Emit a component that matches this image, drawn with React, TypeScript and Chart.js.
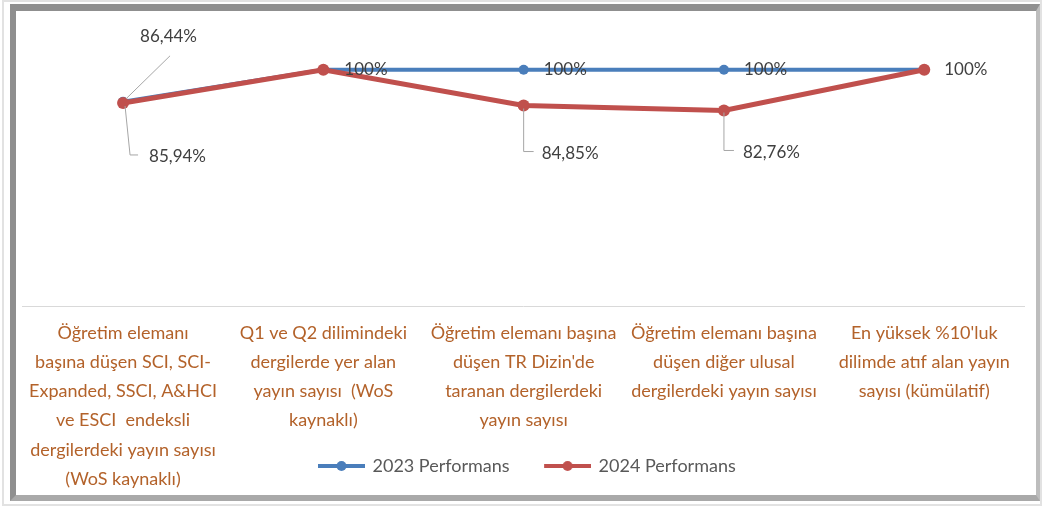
import React, { useEffect, useRef } from "react";
import { Chart, registerables } from "chart.js";

Chart.register(...registerables);

// ---- data ----
const categories: string[][] = [
  ["Öğretim elemanı", "başına düşen SCI, SCI-", "Expanded, SSCI, A&HCI", "ve ESCI  endeksli", "dergilerdeki yayın sayısı", "(WoS kaynaklı)"],
  ["Q1 ve Q2 dilimindeki", "dergilerde yer alan", "yayın sayısı  (WoS", "kaynaklı)"],
  ["Öğretim elemanı başına", "düşen TR Dizin'de", "taranan dergilerdeki", "yayın sayısı"],
  ["Öğretim elemanı başına", "düşen diğer ulusal", "dergilerdeki yayın sayısı"],
  ["En yüksek %10'luk", "dilimde atıf alan yayın", "sayısı (kümülatif)"],
];
const seriesNames = ["2023 Performans", "2024 Performans"];
const values2023 = [86.44, 100, 100, 100, 100];
const values2024 = [85.94, 100, 84.85, 82.76, 100];
const yMin = 0;
const yMax = 120;

// ---- styles ----
const colors = ["#4a7ebb", "#c0504d"];
const labelColor = "#b3622a";
const FONT = "Lato";

// data label placements (offsets relative to the point, styling only)
type Placement = { ds: number; i: number; dx: number; dy: number; leader?: number[][] };
const labelPlacements: Placement[] = [
  { ds: 0, i: 0, dx: 17, dy: -65, leader: [[3, -3], [47, -46]] },
  { ds: 0, i: 1, dx: 21, dy: 0 },
  { ds: 0, i: 2, dx: 20, dy: 0 },
  { ds: 0, i: 3, dx: 20, dy: 0 },
  { ds: 1, i: 0, dx: 26, dy: 54, leader: [[2, 3], [7, 52], [15, 52]] },
  { ds: 1, i: 2, dx: 18, dy: 48, leader: [[0, 3], [0, 46], [10, 46]] },
  { ds: 1, i: 3, dx: 19, dy: 42, leader: [[0, 2], [0, 40], [10, 40]] },
  { ds: 1, i: 4, dx: 20, dy: 0 },
];

const fmt = (v: number) => (Number.isInteger(v) ? String(v) : v.toFixed(2).replace(".", ",")) + "%";

function makeIcon(color: string, lw: number, r: number): HTMLCanvasElement {
  const c = document.createElement("canvas");
  c.width = 73;
  c.height = 14;
  const g = c.getContext("2d")!;
  g.strokeStyle = color;
  g.lineWidth = lw;
  g.beginPath();
  g.moveTo(26, 7);
  g.lineTo(73, 7);
  g.stroke();
  g.fillStyle = color;
  g.beginPath();
  g.arc(49.5, 7, r, 0, Math.PI * 2);
  g.fill();
  return c;
}

export default function App() {
  const ref = useRef<HTMLCanvasElement | null>(null);

  useEffect(() => {
    if (!ref.current) return;
    const icons = [makeIcon(colors[0], 4, 5), makeIcon(colors[1], 4, 5)];

    const dataLabels = {
      id: "dataLabels",
      afterDatasetsDraw(chart: any) {
        const ctx = chart.ctx;
        ctx.save();
        ctx.font = `17px ${FONT}`;
        ctx.fillStyle = "#404040";
        ctx.textBaseline = "middle";
        ctx.textAlign = "left";
        for (const p of labelPlacements) {
          const el = chart.getDatasetMeta(p.ds).data[p.i];
          const v = chart.data.datasets[p.ds].data[p.i] as number;
          if (p.leader) {
            ctx.strokeStyle = "#a6a6a6";
            ctx.lineWidth = 1;
            ctx.beginPath();
            p.leader.forEach(([lx, ly], k) => {
              if (k === 0) ctx.moveTo(el.x + lx, el.y + ly);
              else ctx.lineTo(el.x + lx, el.y + ly);
            });
            ctx.stroke();
          }
          ctx.fillText(fmt(v), el.x + p.dx, el.y + p.dy);
        }
        ctx.restore();
      },
    };

    // place the legend inside the lower part of the category-label band
    const legendPlace = {
      id: "legendPlace",
      afterLayout(chart: any) {
        const lg = chart.legend;
        if (!lg || !lg.lineWidths) return;
        const x0 = (lg.left + 10 + lg.right - lg.lineWidths[0]) / 2;
        const dx = 277.5 - x0;
        lg.left += dx;
        lg.right += dx;
        lg.top = 436;
        lg.bottom = 478;
        lg.height = 42;
      },
    };

    const chart = new Chart(ref.current, {
      type: "line",
      data: {
        labels: categories,
        datasets: [
          {
            label: seriesNames[0],
            data: values2023,
            borderColor: colors[0],
            backgroundColor: colors[0],
            borderWidth: 4,
            pointRadius: 5,
            pointBorderWidth: 0,
            pointBackgroundColor: colors[0],
            tension: 0,
            order: 1,
          },
          {
            label: seriesNames[1],
            data: values2024,
            borderColor: colors[1],
            backgroundColor: colors[1],
            borderWidth: 5,
            pointRadius: 6,
            pointBorderWidth: 0,
            pointBackgroundColor: colors[1],
            tension: 0,
            order: 0,
          },
        ],
      },
      options: {
        responsive: false,
        animation: false,
        layout: { padding: { left: 4.6, right: 11.6, top: 11.5, bottom: 0 } },
        scales: {
          x: {
            type: "category",
            offset: true,
            grid: { display: false, drawTicks: false },
            border: { display: true, color: "#d9d9d9", width: 1 },
            ticks: {
              color: labelColor,
              font: { family: FONT, size: 18, lineHeight: 1.62 },
              maxRotation: 0,
              minRotation: 0,
              autoSkip: false,
              padding: 12.5,
            },
            afterFit: (scale: any) => {
              scale.height = 188;
            },
          },
          y: { display: false, min: yMin, max: yMax },
        },
        plugins: {
          tooltip: { enabled: false },
          legend: {
            display: true,
            position: "bottom",
            maxHeight: 1,
            labels: {
              usePointStyle: true,
              pointStyleWidth: 70,
              padding: 10,
              color: "#595959",
              font: { family: FONT, size: 18 },
              generateLabels: (c: any) => {
                const items = (Chart.defaults.plugins.legend.labels as any).generateLabels(c);
                items.sort((a: any, b: any) => a.datasetIndex - b.datasetIndex);
                items.forEach((it: any) => {
                  it.pointStyle = icons[it.datasetIndex];
                });
                return items;
              },
            },
          },
        },
      },
      plugins: [dataLabels, legendPlace],
    } as any);

    return () => chart.destroy();
  }, []);

  return (
    <div style={{ position: "absolute", left: 0, top: 0, width: 1042, height: 506, background: "#ffffff" }}>
      <div
        style={{
          position: "absolute",
          left: 2,
          top: 0,
          width: 1036,
          height: 502,
          border: "2px solid #e2e2e2",
        }}
      />
      <div
        style={{
          position: "absolute",
          left: 10,
          top: 4,
          width: 1020,
          height: 484,
          borderLeft: "6px solid #8f8f8f",
          borderTop: "7px solid #8f8f8f",
          borderRight: "4px solid #bdbdbd",
          borderBottom: "6px solid #a9a9a9",
          background: "#ffffff",
        }}
      >
        <canvas ref={ref} width={1020} height={484} style={{ display: "block" }} />
      </div>
    </div>
  );
}
